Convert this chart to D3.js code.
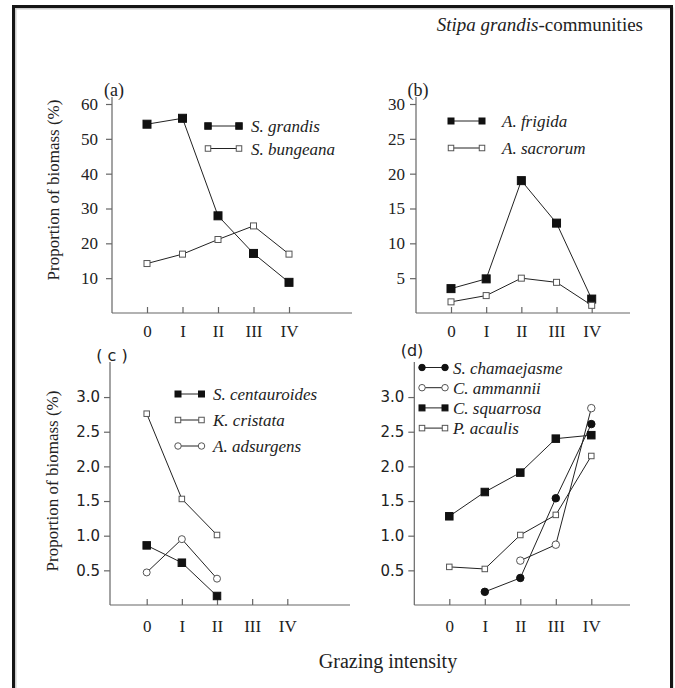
<!DOCTYPE html>
<html><head><meta charset="utf-8">
<script src="https://cdn.jsdelivr.net/npm/d3@7"></script>
<style>
body{margin:0;background:#fff;}
svg{display:block;}
</style></head>
<body>
<svg id="chart" width="675" height="688"></svg>
<script>
// ---- data ----
const categories = ["0", "I", "II", "III", "IV"];
const aTicks = [10, 20, 30, 40, 50, 60];
const bTicks = [5, 10, 15, 20, 25, 30];
const cdTicks = [0.5, 1.0, 1.5, 2.0, 2.5, 3.0];

const aGrandis   = [54.2, 55.9, 27.9, 17.1, 8.8];
const aBungeana  = [14.2, 16.9, 21.1, 25.0, 16.9];
const bFrigida   = [3.5, 4.9, 19.0, 12.9, 2.0];
const bSacrorum  = [1.6, 2.5, 5.0, 4.4, 1.1];
const cCentauroides = [0.86, 0.61, 0.13, null, null];
const cCristata     = [2.76, 1.53, 1.01, null, null];
const cAdsurgens    = [0.47, 0.95, 0.38, null, null];
const dChamaejasme  = [null, 0.19, 0.39, 1.54, 2.61];
const dAmmannii     = [null, null, 0.64, 0.87, 2.84];
const dSquarrosa    = [1.28, 1.63, 1.91, 2.40, 2.45];
const dAcaulis      = [0.55, 0.52, 1.01, 1.30, 2.15];

const serif = "'Liberation Serif','Times New Roman',serif";
const sans = "'DejaVu Sans',sans-serif";
const svg = d3.select("#chart");

// outer frame
svg.append("rect").attr("x", 15.5).attr("y", 8.5).attr("width", 657).attr("height", 700)
  .attr("fill", "none").attr("stroke", "#ccc").attr("stroke-width", 2);
svg.append("rect").attr("x", 13.5).attr("y", 6.5).attr("width", 658).attr("height", 700)
  .attr("fill", "none").attr("stroke", "#151515").attr("stroke-width", 3);

svg.append("text").attr("x", 643).attr("y", 31).attr("text-anchor", "end")
  .attr("font-family", serif).attr("font-size", 19).attr("fill", "#222")
  .html("<tspan font-style='italic'>Stipa grandis</tspan>-communities");

svg.append("text").attr("x", 388).attr("y", 668).attr("text-anchor", "middle")
  .attr("font-family", serif).attr("font-size", 20).attr("fill", "#222")
  .text("Grazing intensity");

function panel(cfg) {
  const g = svg.append("g");
  const x = d3.scaleLinear().domain([0, 4]).range([cfg.x0, cfg.x4]);
  const y = d3.scaleLinear().domain([0, cfg.ymax]).range([cfg.yb, cfg.yt]);

  // axis lines
  g.append("line").attr("x1", cfg.ax).attr("x2", cfg.ax).attr("y1", cfg.yb).attr("y2", cfg.axTop)
    .attr("stroke", "#666").attr("stroke-width", 1.2);
  g.append("line").attr("x1", cfg.ax).attr("x2", cfg.axRight).attr("y1", cfg.yb).attr("y2", cfg.yb)
    .attr("stroke", "#666").attr("stroke-width", 1.2);

  const ya = g.append("g").attr("transform", `translate(${cfg.ax},0)`)
    .call(d3.axisLeft(y).tickValues(cfg.ticks).tickSize(6).tickSizeOuter(0)
      .tickPadding(cfg.yPad).tickFormat(cfg.fmt));
  ya.select(".domain").remove();
  ya.selectAll(".tick line").attr("stroke", "#666").attr("stroke-width", 1.2);
  ya.selectAll("text").attr("font-family", cfg.tickFont).attr("font-size", cfg.tickSize)
    .attr("fill", "#222");

  const xa = g.append("g").attr("transform", `translate(0,${cfg.yb})`)
    .call(d3.axisBottom(x).tickValues([0, 1, 2, 3, 4]).tickSize(-6).tickSizeOuter(0)
      .tickPadding(cfg.xPad).tickFormat(i => categories[i]));
  xa.select(".domain").remove();
  xa.selectAll(".tick line").attr("stroke", "#666").attr("stroke-width", 1.2);
  xa.selectAll("text").attr("font-family", serif).attr("font-size", 17).attr("fill", "#222");

  // panel label
  g.append("text").attr("x", cfg.lx).attr("y", cfg.ly).attr("text-anchor", "middle")
    .attr("font-family", cfg.labelFont).attr("font-size", cfg.labelSize).attr("fill", "#222")
    .attr("xml:space", "preserve").text(cfg.label);

  // y title
  if (cfg.ytitle) {
    g.append("text").attr("transform", `translate(${cfg.tx},${cfg.ty}) rotate(-90)`)
      .attr("text-anchor", "middle").attr("font-family", serif).attr("font-size", 17)
      .attr("fill", "#222").text("Proportion of biomass (%)");
  }

  // series
  cfg.series.forEach(s => {
    const pts = s.values.map((v, i) => ({ i, v })).filter(d => d.v != null);
    g.append("path").datum(pts)
      .attr("d", d3.line().x(d => x(d.i)).y(d => y(d.v)))
      .attr("fill", "none").attr("stroke", "#222").attr("stroke-width", 1);
    pts.forEach(d => drawMarker(g, s.marker, x(d.i), y(d.v), s.size));
  });

  // legend
  cfg.series.forEach((s, k) => {
    const ly = cfg.legY + k * cfg.legStep;
    g.append("line").attr("x1", cfg.legX1).attr("x2", cfg.legX2).attr("y1", ly).attr("y2", ly)
      .attr("stroke", "#222").attr("stroke-width", 1);
    drawMarker(g, s.marker, cfg.legX1, ly, s.legSize);
    drawMarker(g, s.marker, cfg.legX2, ly, s.legSize);
    g.append("text").attr("x", cfg.legTx).attr("y", ly + 6)
      .attr("font-family", serif).attr("font-style", "italic").attr("font-size", 17)
      .attr("fill", "#222").text(s.name);
  });
}

function drawMarker(g, type, cx, cy, size) {
  if (type === "fsq" || type === "osq") {
    g.append("rect").attr("x", cx - size / 2).attr("y", cy - size / 2)
      .attr("width", size).attr("height", size)
      .attr("fill", type === "fsq" ? "#111" : "#fff")
      .attr("stroke", type === "fsq" ? "#111" : "#555").attr("stroke-width", 1);
  } else {
    g.append("circle").attr("cx", cx).attr("cy", cy).attr("r", size / 2)
      .attr("fill", type === "fci" ? "#111" : "#fff")
      .attr("stroke", type === "fci" ? "#111" : "#555").attr("stroke-width", 1);
  }
}

panel({
  x0: 147, x4: 289, yb: 313, yt: 104, ymax: 60, ax: 112, axTop: 97, axRight: 352,
  ticks: aTicks, fmt: d3.format("d"), tickFont: serif, tickSize: 17, yPad: 8, xPad: 12,
  label: "(a)", lx: 114, ly: 96, labelFont: serif, labelSize: 18,
  ytitle: true, tx: 59, ty: 190,
  legX1: 208, legX2: 239, legTx: 251, legY: 126, legStep: 22.5,
  series: [
    { name: "S. grandis", values: aGrandis, marker: "fsq", size: 8, legSize: 6.5 },
    { name: "S. bungeana", values: aBungeana, marker: "osq", size: 6, legSize: 5.5 }
  ]
});

panel({
  x0: 451, x4: 591.7, yb: 313, yt: 104, ymax: 30, ax: 416, axTop: 97, axRight: 630,
  ticks: bTicks, fmt: d3.format("d"), tickFont: serif, tickSize: 17, yPad: 5, xPad: 12,
  label: "(b)", lx: 418, ly: 96, labelFont: serif, labelSize: 18,
  ytitle: false,
  legX1: 451, legX2: 482, legTx: 502, legY: 121, legStep: 27,
  series: [
    { name: "A. frigida", values: bFrigida, marker: "fsq", size: 8, legSize: 6 },
    { name: "A. sacrorum", values: bSacrorum, marker: "osq", size: 6, legSize: 5.5 }
  ]
});

panel({
  x0: 146.7, x4: 287.3, yb: 605, yt: 362.4, ymax: 3.5, ax: 110, axTop: 362, axRight: 350,
  ticks: cdTicks, fmt: d3.format(".1f"), tickFont: sans, tickSize: 15, yPad: 4, xPad: 15,
  label: "( c )", lx: 112, ly: 361, labelFont: sans, labelSize: 16,
  ytitle: true, tx: 58, ty: 481,
  legX1: 178, legX2: 201.5, legTx: 213, legY: 394, legStep: 26,
  series: [
    { name: "S. centauroides", values: cCentauroides, marker: "fsq", size: 7.5, legSize: 6 },
    { name: "K. cristata", values: cCristata, marker: "osq", size: 5.5, legSize: 5.5 },
    { name: "A. adsurgens", values: cAdsurgens, marker: "oci", size: 7, legSize: 6.5 }
  ]
});

panel({
  x0: 449.3, x4: 591.3, yb: 605, yt: 362.4, ymax: 3.5, ax: 414.3, axTop: 362, axRight: 630,
  ticks: cdTicks, fmt: d3.format(".1f"), tickFont: sans, tickSize: 15, yPad: 4, xPad: 15,
  label: "(d)", lx: 412, ly: 356, labelFont: sans, labelSize: 16,
  ytitle: false,
  legX1: 422, legX2: 445, legTx: 453, legY: 367.5, legStep: 20.2,
  series: [
    { name: "S. chamaejasme", values: dChamaejasme, marker: "fci", size: 7.5, legSize: 6.5 },
    { name: "C. ammannii", values: dAmmannii, marker: "oci", size: 7.5, legSize: 6.5 },
    { name: "C. squarrosa", values: dSquarrosa, marker: "fsq", size: 7.5, legSize: 6 },
    { name: "P. acaulis", values: dAcaulis, marker: "osq", size: 5.5, legSize: 5.5 }
  ]
});
</script>
</body></html>
